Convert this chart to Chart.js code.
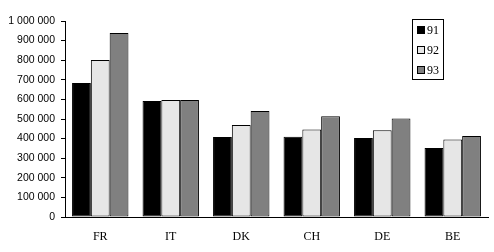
<!DOCTYPE html>
<html>
<head>
<meta charset="utf-8">
<script src="https://cdn.jsdelivr.net/npm/chart.js@4/dist/chart.umd.min.js"></script>
<style>
  html, body { margin: 0; padding: 0; background: #fff; }
  #wrap { width: 494px; height: 252px; }
</style>
</head>
<body>
<div id="wrap"><canvas id="myChart" width="494" height="252"></canvas></div>
<script>
// chart data
let countries = ["FR", "IT", "DK", "CH", "DE", "BE"];
let years = ["91", "92", "93"];
let values91 = [684000, 592000, 408000, 410000, 403000, 352000];
let values92 = [801000, 597000, 469000, 447000, 442000, 396000];
let values93 = [939000, 597000, 541000, 514000, 503000, 413000];
let yTicks = [0, 100000, 200000, 300000, 400000, 500000, 600000, 700000, 800000, 900000, 1000000];
let fills = ["#000000", "#e6e6e6", "#808080"];

fmtNum = (v) => String(v).replace(/\B(?=(\d{3})+(?!\d))/g, " ");

// boxed legend in the top right, drawn from the datasets
let boxLegend = {
  id: "boxLegend",
  afterDraw: (chart) => {
    let ctx = chart.ctx;
    let x = 412.5, y = 19.5, w = 31, h = 60;
    ctx.save();
    ctx.fillStyle = "#fff";
    ctx.fillRect(x, y, w, h);
    ctx.strokeStyle = "#000";
    ctx.lineWidth = 1;
    ctx.strokeRect(x, y, w, h);
    ctx.font = "12px 'Liberation Serif'";
    ctx.textBaseline = "middle";
    chart.data.datasets.forEach((ds, i) => {
      let cy = 30 + i * 20;
      ctx.fillStyle = ds.backgroundColor;
      ctx.fillRect(417.5, cy - 3.5, 7, 7);
      ctx.strokeRect(417.5, cy - 3.5, 7, 7);
      ctx.fillStyle = "#000";
      ctx.fillText(ds.label, 427, cy + 0.5);
    });
    ctx.restore();
  }
};

let ctx = document.getElementById("myChart").getContext("2d");
let myChart = new Chart(ctx, {
  type: "bar",
  data: {
    labels: countries,
    datasets: [
      { label: years[0], data: values91, backgroundColor: fills[0] },
      { label: years[1], data: values92, backgroundColor: fills[1] },
      { label: years[2], data: values93, backgroundColor: fills[2] }
    ]
  },
  options: {
    responsive: false,
    animation: false,
    layout: { padding: { top: 21, right: 6, bottom: 0, left: 0 } },
    datasets: {
      bar: {
        borderColor: "#000",
        borderWidth: 1,
        borderSkipped: false,
        categoryPercentage: 0.8,
        barPercentage: 1.0
      }
    },
    plugins: {
      legend: { display: false },
      tooltip: { enabled: false }
    },
    scales: {
      x: {
        grid: { display: false },
        border: { display: true, color: "#000", width: 1 },
        ticks: {
          color: "#000",
          padding: 5,
          font: { family: "'Liberation Serif'", size: 12 }
        },
        afterFit: (scale) => { scale.height = 35; }
      },
      y: {
        min: 0,
        max: 1000000,
        afterBuildTicks: (scale) => {
          scale.ticks = yTicks.map((v) => ({ value: v }));
        },
        grid: {
          drawOnChartArea: false,
          drawTicks: true,
          tickLength: 4,
          color: "#000"
        },
        border: { display: true, color: "#000", width: 1 },
        ticks: {
          color: "#000",
          padding: 6,
          font: { family: "'Liberation Sans'", size: 10.5 },
          callback: (v) => fmtNum(v)
        },
        afterFit: (scale) => { scale.width = 65; }
      }
    }
  },
  plugins: [boxLegend]
});
</script>
</body>
</html>
